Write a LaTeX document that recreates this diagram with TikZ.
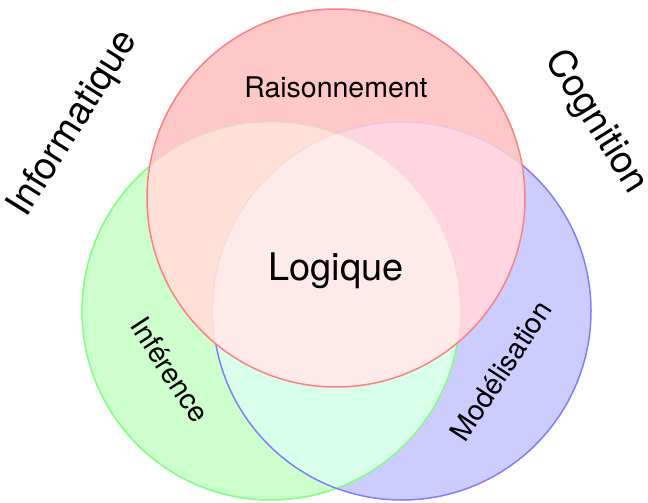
\documentclass[tikz,border=0pt]{standalone}
\usepackage{fontspec}
\setmainfont{TeX Gyre Heros}
\usepackage{tikz}
\definecolor{RedFill}{HTML}{FFC8C8}
\definecolor{GreenFill}{HTML}{CCFFCC}
\definecolor{BlueFill}{HTML}{CCCCFF}
\definecolor{RGFill}{HTML}{FFE0D6}
\definecolor{RBFill}{HTML}{FFD6E0}
\definecolor{GBFill}{HTML}{D8FFEA}
\definecolor{MidFill}{HTML}{FFEAEA}
\definecolor{RedLine}{HTML}{FF8080}
\definecolor{GreenLine}{HTML}{80FF80}
\definecolor{BlueLine}{HTML}{8080FF}
\newcommand{\Rad}{189pt}
\newcommand{\BigFont}{\fontsize{38}{40}\selectfont}
\newcommand{\MidFont}{\fontsize{28.5}{30}\selectfont}

\begin{document}
\begin{tikzpicture}[x=1pt,y=-1pt,line cap=round,line join=round,line width=1.5pt]
  \useasboundingbox (0,0) rectangle (648,503);
  \coordinate (red) at (336,198);
  \coordinate (green) at (271,311);
  \coordinate (blue) at (402,311);
  % lower circles
  \fill[GreenFill] (green) circle (\Rad);
  \fill[BlueFill] (blue) circle (\Rad);
  \begin{scope}
    \clip (green) circle (\Rad);
    \fill[GBFill] (blue) circle (\Rad);
  \end{scope}
  \draw[GreenLine] (green) circle (\Rad);
  \draw[BlueLine] (blue) circle (\Rad);
  % upper circle
  \fill[RedFill] (red) circle (\Rad);
  \begin{scope}
    \clip (red) circle (\Rad);
    \fill[RGFill] (green) circle (\Rad);
    \fill[RBFill] (blue) circle (\Rad);
    \draw[GreenLine,opacity=0.15] (green) circle (\Rad);
    \draw[BlueLine,opacity=0.12] (blue) circle (\Rad);
    \clip (green) circle (\Rad);
    \fill[MidFill] (blue) circle (\Rad);
  \end{scope}
  \draw[RedLine] (red) circle (\Rad);
  % labels
  \node (logique) at (336,271) {\BigFont Logique};
  \node (raisonnement) at (336,87) {\MidFont Raisonnement};
  \node[rotate=-57] (inference) at (170,370) {\MidFont Inférence};
  \node[rotate=57] (modelisation) at (501,371) {\MidFont Modélisation};
  \node[rotate=58] (informatique) at (74,124) {\BigFont Informatique};
  \node[rotate=-58] (cognition) at (596,122) {\BigFont Cognition};
\end{tikzpicture}
\end{document}
